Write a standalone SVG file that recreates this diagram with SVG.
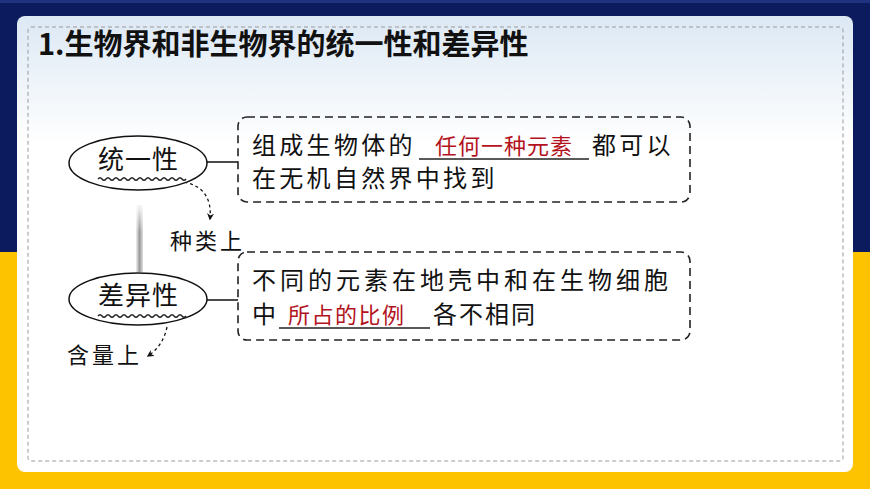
<svg xmlns="http://www.w3.org/2000/svg" width="870" height="489" viewBox="0 0 870 489">
<defs>
<linearGradient id="cardGrad" x1="0" y1="0" x2="0" y2="1">
<stop offset="0" stop-color="#dce8f4"/>
<stop offset="0.28" stop-color="#ffffff"/>
<stop offset="1" stop-color="#ffffff"/>
</linearGradient>
<linearGradient id="barGrad" x1="0" y1="0" x2="1" y2="0">
<stop offset="0" stop-color="#f2f2f2"/>
<stop offset="0.5" stop-color="#9a9a9a"/>
<stop offset="1" stop-color="#e0e0e0"/>
</linearGradient>
<linearGradient id="barFade" x1="0" y1="0" x2="0" y2="1">
<stop offset="0" stop-color="#fff" stop-opacity="0.9"/>
<stop offset="0.4" stop-color="#fff" stop-opacity="0"/>
</linearGradient>
<marker id="ah" viewBox="0 0 10 10" refX="8" refY="5" markerWidth="7" markerHeight="7" orient="auto" markerUnits="userSpaceOnUse">
<path d="M0,0 L10,5 L0,10 L3,5 Z" fill="#111"/>
</marker>
<style>
.cn{font-family:"Noto Sans CJK SC","Noto Sans",sans-serif;}
.title{font-size:29px;font-weight:bold;fill:#111;}
.body{font-size:24px;fill:#111;letter-spacing:3.3px;}
.ans{font-size:22px;fill:#b3131d;letter-spacing:1px;}
.oval{fill:#fff;stroke:#111;stroke-width:1.5;}
.olab{font-size:26px;fill:#111;letter-spacing:1px;}
.box{fill:none;stroke:#222;stroke-width:1.6;stroke-dasharray:8 5;}
.uline{stroke:#222;stroke-width:1.4;}
.wave{fill:none;stroke:#222;stroke-width:1.4;}
.conn{stroke:#111;stroke-width:1.5;fill:none;}
.darr{stroke:#111;stroke-width:1.3;fill:none;stroke-dasharray:3 3;}
.hand{font-size:22px;fill:#111;letter-spacing:3px;}
</style>
</defs>
<!-- background -->
<rect x="0" y="0" width="870" height="252" fill="#0b1b5e"/>
<rect x="0" y="0" width="870" height="3" fill="#1f3380"/>
<rect x="0" y="252" width="870" height="237" fill="#fdc300"/>
<rect x="17" y="16" width="836" height="456" rx="8" fill="url(#cardGrad)"/>
<rect x="28" y="27" width="815" height="434" rx="3" fill="none" stroke="#9a9a9a" stroke-width="1" stroke-dasharray="4 3"/>
<text class="cn title" x="38" y="55">1.生物界和非生物界的统一性和差异性</text>

<g id="connectors">
<rect x="136" y="205" width="7" height="67" fill="url(#barGrad)"/>
<rect x="136" y="205" width="7" height="67" fill="url(#barFade)"/>
<line class="conn" x1="207" y1="162" x2="238" y2="162"/>
<line class="conn" x1="207" y1="300" x2="238" y2="300"/>
<path class="darr" d="M184,182 Q213,188 210,219" marker-end="url(#ah)"/>
<path class="darr" d="M167,327 Q163,346 148,356" marker-end="url(#ah)"/>
</g>

<g id="unity">
<ellipse class="oval" cx="138" cy="163" rx="69" ry="27"/>
<text class="cn olab" x="98" y="169">统一性</text>
<path class="wave" d="M98,179 q2,-2.5 4,0 t4,0 t4,0 t4,0 t4,0 t4,0 t4,0 t4,0 t4,0 t4,0 t4,0 t4,0 t4,0 t4,0 t4,0 t4,0 t4,0 t4,0 t4,0 t4,0 t4,0 t4,0"/>
</g>

<g id="diversity">
<ellipse class="oval" cx="138" cy="299" rx="69" ry="26"/>
<text class="cn olab" x="98" y="305">差异性</text>
<path class="wave" d="M98,316 q2,-2.5 4,0 t4,0 t4,0 t4,0 t4,0 t4,0 t4,0 t4,0 t4,0 t4,0 t4,0 t4,0 t4,0 t4,0 t4,0 t4,0 t4,0 t4,0 t4,0 t4,0 t4,0 t4,0"/>
</g>

<g id="unity-desc">
<rect class="box" x="238" y="117" width="452" height="85" rx="9"/>
<text class="cn body" x="252" y="154">组成生物体的</text>
<line class="uline" x1="419" y1="159" x2="589" y2="159"/>
<text class="cn ans" x="435" y="154">任何一种元素</text>
<text class="cn body" x="592" y="154">都可以</text>
<text class="cn body" x="252" y="187">在无机自然界中找到</text>
</g>

<g id="diversity-desc">
<rect class="box" x="238" y="252" width="452" height="88" rx="9"/>
<text class="cn body" x="252" y="289" style="letter-spacing:4px">不同的元素在地壳中和在生物细胞</text>
<text class="cn body" x="252" y="323">中</text>
<line class="uline" x1="279" y1="328" x2="430" y2="328"/>
<text class="cn ans" x="288" y="323" style="letter-spacing:1.5px">所占的比例</text>
<text class="cn body" x="433" y="323" style="letter-spacing:2px">各不相同</text>
</g>

<g id="label-kind">
<text class="cn hand" x="170" y="249">种类上</text>
</g>
<g id="label-amount">
<text class="cn hand" x="67" y="363">含量上</text>
</g>
</svg>
